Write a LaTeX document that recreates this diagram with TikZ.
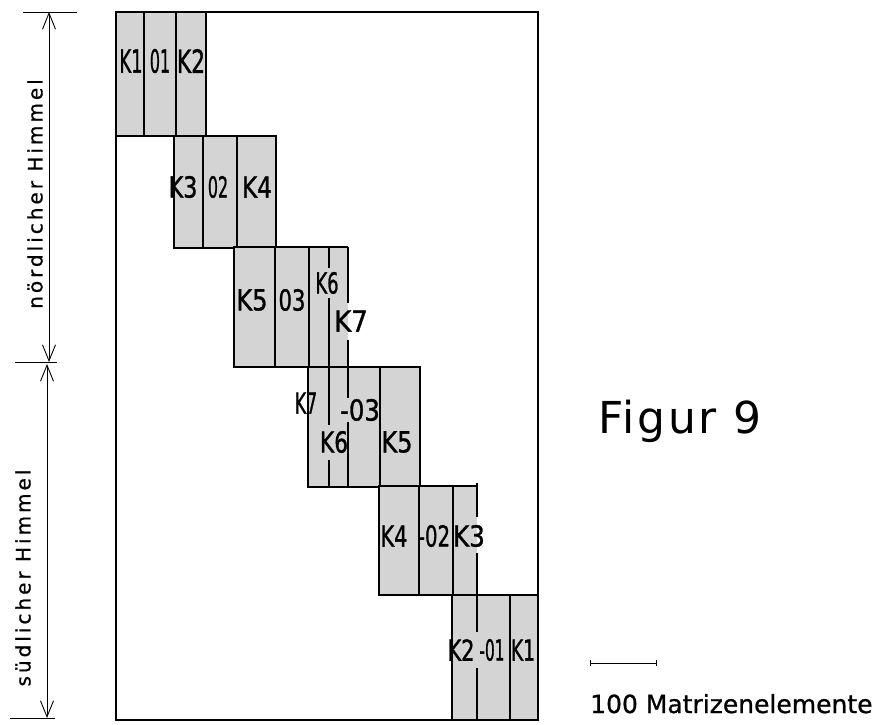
\documentclass[tikz,border=0pt]{standalone}
\usepackage{fontspec}
\setmainfont{DejaVu Sans}
\newfontfamily\labfont[FakeBold=1.2]{DejaVu Sans}
\newfontfamily\spacedfont[LetterSpace=15,FakeBold=0.8]{DejaVu Sans}
\newfontfamily\notefont[FakeBold=0.8]{DejaVu Sans}
\newfontfamily\titlefont[LetterSpace=6]{DejaVu Sans}
\usepackage{graphicx}
\usetikzlibrary{arrows.meta}
\colorlet{blockgray}{black!17}
\newcommand{\sq}[2]{\scalebox{#1}[1]{#2}}

\begin{document}
\begin{tikzpicture}[x=1pt, y=-1pt,
  block/.style={fill=blockgray, draw=black, line width=1.1pt},
  rule/.style={draw=black, line width=1.1pt},
  lab/.style={inner sep=0pt, font=\labfont\fontsize{29}{29}\selectfont},
  biglab/.style={lab, font=\labfont\fontsize{32}{32}\selectfont},
  side/.style={rotate=90, inner sep=0pt, font=\spacedfont\fontsize{20}{20}\selectfont},
  dim/.style={{Straight Barb[length=16pt,width=13pt]}-{Straight Barb[length=16pt,width=13pt]},
    line width=0.9pt},
]
  \fill[white] (0,0) rectangle (886,724);
  \useasboundingbox (0,0) rectangle (886,724);

  % Frame
  \draw[rule] (116,12) rectangle (538,720);

  % Block 1
  \filldraw[block] (116,12) rectangle (206,136);
  \draw[rule] (144,12) -- (144,136) (176,12) -- (176,136);
  \node[biglab] (nK1) at (131,61) {\sq{0.56}{K1}};
  \node[biglab] (nO1) at (160,61) {\sq{0.5}{01}};
  \node[biglab] (nK2) at (191,61) {\sq{0.68}{K2}};

  % Block 2
  \filldraw[block] (174,136) rectangle (276,248);
  \draw[rule] (203,136) -- (203,248) (237,136) -- (237,248);
  \node[lab] (nK3) at (183,187) {\sq{0.77}{K3}};
  \node[lab] (nO2) at (218,187) {\sq{0.55}{02}};
  \node[lab] (nK4) at (257,187) {\sq{0.8}{K4}};

  % Block 3
  \fill[blockgray] (234,247) rectangle (348,367);
  \draw[rule] (348,247) -- (234,247) -- (234,367) -- (348,367);
  \draw[rule] (275,247) -- (275,367) (309,247) -- (309,367);
  \node[lab] (nK5) at (252,300) {\sq{0.83}{K5}};
  \node[lab] (nO3) at (292,300) {\sq{0.73}{03}};
  \node[lab] (nK6) at (327,283) {\sq{0.62}{K6}};
  \node[lab] (nK7) at (351,321) {\sq{0.9}{K7}};

  % Block 4
  \filldraw[block] (308,367) rectangle (420,487);
  \draw[rule] (380,367) -- (380,487);
  \node[lab] (sK7) at (306,403) {\sq{0.6}{K7}};
  \node[lab] (sO3) at (360,410) {\sq{0.84}{-03}};
  \node[lab] (sK6) at (334,442) {\sq{0.75}{K6}};
  \node[lab] (sK5) at (397,442) {\sq{0.83}{K5}};

  % broken dividers between block 3 and 4
  \draw[rule] (329,247) -- (329,268) (329,298) -- (329,425) (329,460) -- (329,487);
  \draw[rule] (348,247) -- (348,303) (348,340) -- (348,398) (348,422) -- (348,487);

  % Block 5
  \fill[blockgray] (379,486) rectangle (477,595);
  \draw[rule] (477,486) -- (379,486) -- (379,595) -- (477,595);
  \draw[rule] (419,486) -- (419,595) (453,486) -- (453,595);
  \node[lab] (sK4) at (394,536) {\sq{0.72}{K4}};
  \node[lab] (sO2) at (434,536) {\sq{0.68}{-02}};
  \node[lab] (sK3) at (469,536) {\sq{0.85}{K3}};

  % Block 6
  \filldraw[block] (452,595) rectangle (538,720);
  \draw[rule] (510,595) -- (510,720);
  \draw[rule] (477,483) -- (477,517) (477,553) -- (477,632) (477,668) -- (477,720);
  \node[lab] (sK2) at (461,650) {\sq{0.72}{K2}};
  \node[lab] (sO1) at (492,650) {\sq{0.53}{-01}};
  \node[lab] (sK1) at (523,650) {\sq{0.64}{K1}};

  % Hemispheres
  \coordinate (ntop) at (49,12);
  \coordinate (nbot) at (49,362);
  \coordinate (stop) at (47,364);
  \coordinate (sbot) at (47,718);
  \draw[line width=0.9pt] (23,12) -- (77,12) (15,362) -- (57,362) (10,718) -- (55,718);
  \draw[dim] (ntop) -- (nbot);
  \draw[dim] (stop) -- (sbot);
  \node[side] (nord) at (35,194) {nördlicher Himmel};
  \node[side] (sued) at (23,578) {südlicher Himmel};

  % Title and scale
  \node[anchor=base west, inner sep=0pt, font=\titlefont\fontsize{44}{44}\selectfont]
    (fig) at (598,433) {Figur 9};
  \coordinate (barl) at (590,663);
  \coordinate (barr) at (657,663);
  \draw[{Bar[width=6pt]}-{Bar[width=6pt]}, line width=0.8pt] (barl) -- (barr);
  \node[anchor=base west, inner sep=0pt, font=\notefont\fontsize{25}{25}\selectfont]
    (scale) at (590,713) {100 Matrizenelemente};
\end{tikzpicture}
\end{document}
